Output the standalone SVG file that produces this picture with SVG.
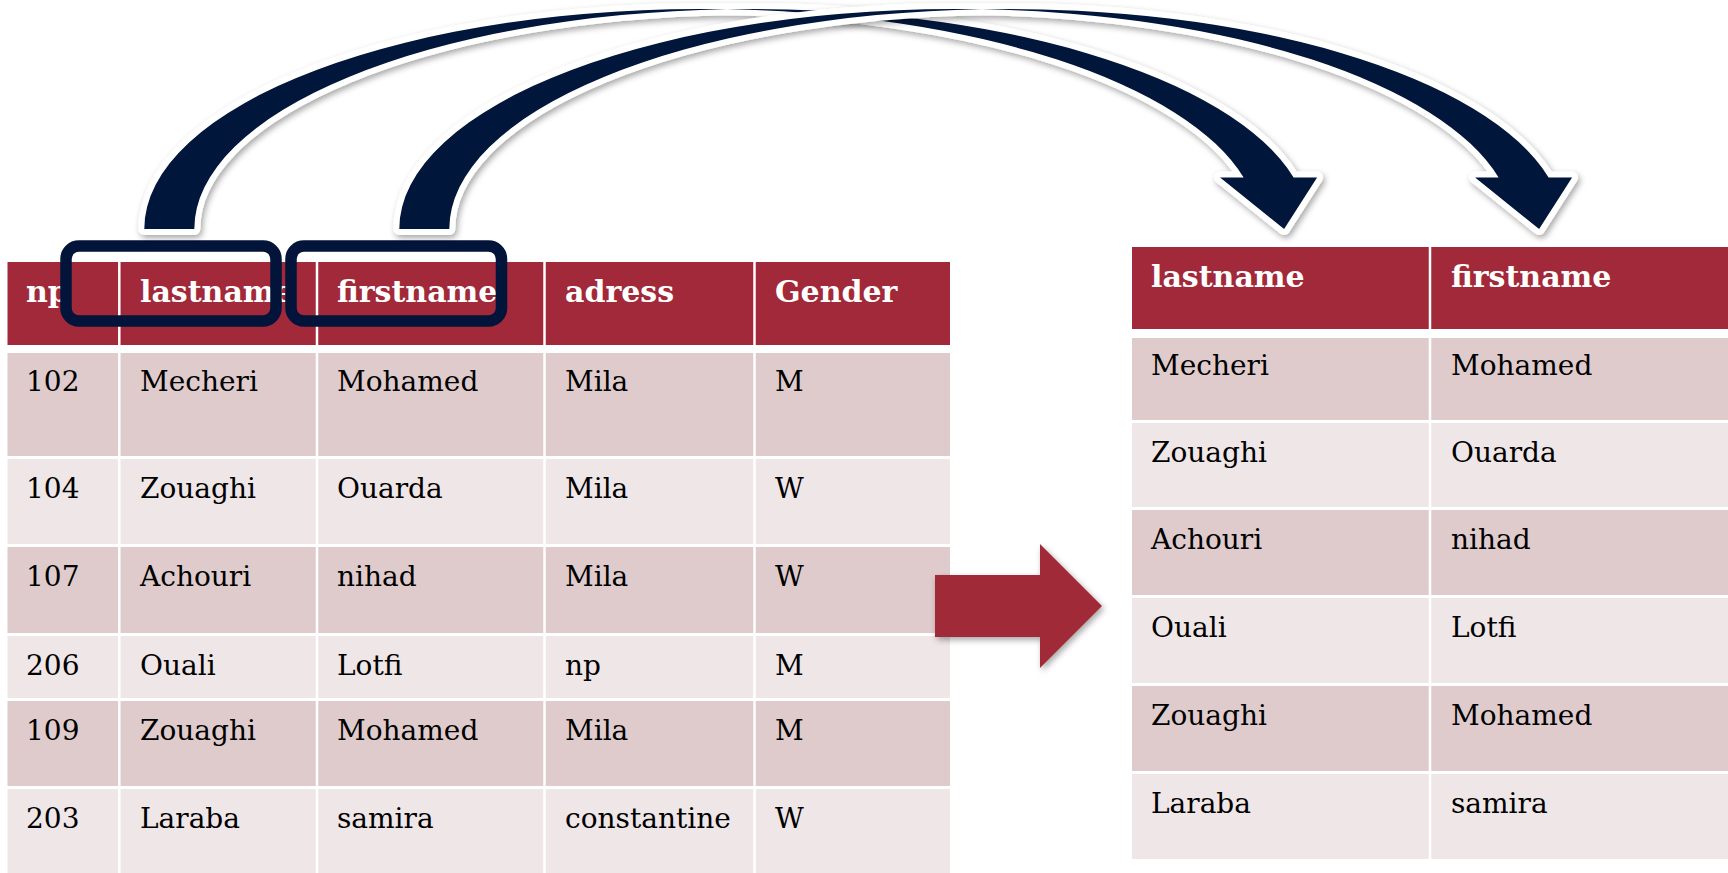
<svg xmlns="http://www.w3.org/2000/svg" width="1728" height="873" viewBox="0 0 1728 873">
<style>
.hdr{fill:#A12939}
.dk{fill:#DFCBCC}
.lt{fill:#EFE6E7}
.sep{stroke:#FFFFFF;stroke-width:2.5}
.th{font-family:"DejaVu Serif","Liberation Serif",serif;font-weight:bold;font-size:30px;fill:#FFFFFF}
.td{font-family:"DejaVu Serif","Liberation Serif",serif;font-size:28px;fill:#000000}
.sel{fill:none;stroke:#02143A;stroke-width:11.5}
.curve{fill:#02143A;stroke:#FFFFFF;stroke-width:12;stroke-linejoin:round;paint-order:stroke}
</style>
<defs>
<filter id="shadow" x="-10%" y="-10%" width="120%" height="130%">
<feDropShadow dx="2" dy="3" stdDeviation="3" flood-color="#000000" flood-opacity="0.35"/>
</filter>
</defs>
<rect width="1728" height="873" fill="#FFFFFF"/>

<g id="table-left">
<rect class="hdr" x="7.5" y="262" width="942.5" height="83"/>
<rect class="dk" x="7.5" y="353" width="942.5" height="103"/>
<rect class="lt" x="7.5" y="459" width="942.5" height="85"/>
<rect class="dk" x="7.5" y="547" width="942.5" height="86"/>
<rect class="lt" x="7.5" y="636" width="942.5" height="62"/>
<rect class="dk" x="7.5" y="701" width="942.5" height="85"/>
<rect class="lt" x="7.5" y="789" width="942.5" height="84"/>
<line class="sep" x1="119.3" y1="262" x2="119.3" y2="873"/>
<line class="sep" x1="317" y1="262" x2="317" y2="873"/>
<line class="sep" x1="544.5" y1="262" x2="544.5" y2="873"/>
<line class="sep" x1="754.5" y1="262" x2="754.5" y2="873"/>
<text class="th" x="26" y="302">np</text>
<text class="th" x="140" y="302">lastname</text>
<text class="th" x="337" y="302">firstname</text>
<text class="th" x="565" y="302">adress</text>
<text class="th" x="775" y="302">Gender</text>
<g class="td">
<text x="26" y="391">102</text><text x="140" y="391">Mecheri</text><text x="337" y="391">Mohamed</text><text x="565" y="391">Mila</text><text x="775" y="391">M</text>
<text x="26" y="498">104</text><text x="140" y="498">Zouaghi</text><text x="337" y="498">Ouarda</text><text x="565" y="498">Mila</text><text x="775" y="498">W</text>
<text x="26" y="586">107</text><text x="140" y="586">Achouri</text><text x="337" y="586">nihad</text><text x="565" y="586">Mila</text><text x="775" y="586">W</text>
<text x="26" y="675">206</text><text x="140" y="675">Ouali</text><text x="337" y="675">Lotfi</text><text x="565" y="675">np</text><text x="775" y="675">M</text>
<text x="26" y="740">109</text><text x="140" y="740">Zouaghi</text><text x="337" y="740">Mohamed</text><text x="565" y="740">Mila</text><text x="775" y="740">M</text>
<text x="26" y="828">203</text><text x="140" y="828">Laraba</text><text x="337" y="828">samira</text><text x="565" y="828">constantine</text><text x="775" y="828">W</text>
</g>
</g>

<g id="table-right">
<rect class="hdr" x="1132" y="247" width="596" height="82"/>
<rect class="dk" x="1132" y="338" width="596" height="82"/>
<rect class="lt" x="1132" y="423" width="596" height="84"/>
<rect class="dk" x="1132" y="510" width="596" height="85"/>
<rect class="lt" x="1132" y="598" width="596" height="85"/>
<rect class="dk" x="1132" y="686" width="596" height="85"/>
<rect class="lt" x="1132" y="774" width="596" height="85"/>
<line class="sep" x1="1430" y1="247" x2="1430" y2="859"/>
<text class="th" x="1151" y="287">lastname</text>
<text class="th" x="1451" y="287">firstname</text>
<g class="td">
<text x="1151" y="375">Mecheri</text><text x="1451" y="375">Mohamed</text>
<text x="1151" y="462">Zouaghi</text><text x="1451" y="462">Ouarda</text>
<text x="1151" y="549">Achouri</text><text x="1451" y="549">nihad</text>
<text x="1151" y="637">Ouali</text><text x="1451" y="637">Lotfi</text>
<text x="1151" y="725">Zouaghi</text><text x="1451" y="725">Mohamed</text>
<text x="1151" y="813">Laraba</text><text x="1451" y="813">samira</text>
</g>
</g>

<g id="selection-lastname">
<rect class="sel" x="66" y="246" width="210" height="75" rx="13"/>
</g>
<g id="selection-firstname">
<rect class="sel" x="291" y="246" width="210.5" height="75" rx="13"/>
</g>

<g id="connectors">
<path class="curve" filter="url(#shadow)" d="M 144.3 229 A 557.4 220 0 0 1 726.7 9.22 A 557.4 220 0 0 1 1293.6 177.5 L 1317.1 177.5 L 1284.1 229 L 1220.1 177.5 L 1243.6 177.5 A 557.4 220 0 0 0 726.7 9.22 A 557.4 220 0 0 0 194.3 229 Z"/>
<path class="curve" filter="url(#shadow)" d="M 399.3 229 A 557.4 220 0 0 1 981.7 9.22 A 557.4 220 0 0 1 1548.6 177.5 L 1572.1 177.5 L 1539.1 229 L 1475.1 177.5 L 1498.6 177.5 A 557.4 220 0 0 0 981.7 9.22 A 557.4 220 0 0 0 449.3 229 Z"/>
<path fill="#A12939" filter="url(#shadow)" d="M 935 575 L 1040 575 L 1040 544 L 1102 606 L 1040 668 L 1040 637 L 935 637 Z"/>
</g>
</svg>
